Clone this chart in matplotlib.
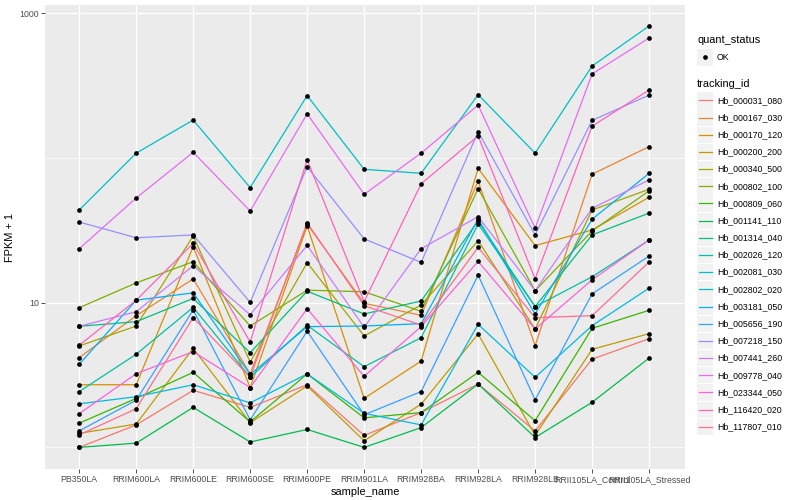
import numpy as np
import matplotlib.pyplot as plt
from matplotlib.patches import Rectangle
from matplotlib.ticker import FixedLocator, NullFormatter

plt.rcParams['font.family'] = ['Liberation Sans', 'DejaVu Sans']

samples = ['PB350LA', 'RRIM600LA', 'RRIM600LE', 'RRIM600SE', 'RRIM600PE',
           'RRIM901LA', 'RRIM928BA', 'RRIM928LA', 'RRIM928LB',
           'RRII105LA_Control', 'RRII105LA_Stressed']

tracking_ids = ['Hb_000031_080', 'Hb_000167_030', 'Hb_000170_120', 'Hb_000200_200',
                'Hb_000340_500', 'Hb_000802_100', 'Hb_000809_060', 'Hb_001141_110',
                'Hb_001314_040', 'Hb_002026_120', 'Hb_002081_030', 'Hb_002802_020',
                'Hb_003181_050', 'Hb_005656_190', 'Hb_007218_150', 'Hb_007441_260',
                'Hb_009778_040', 'Hb_023344_050', 'Hb_116420_020', 'Hb_117807_010']

# ggplot hue palette for 20 levels
colors = ['#F8766D', '#EA8331', '#D89000', '#C09B00', '#A3A500', '#7CAE00',
          '#39B600', '#00BB4E', '#00BF7D', '#00C1A3', '#00BFC4', '#00BAE0',
          '#00B0F6', '#35A2FF', '#9590FF', '#C77CFF', '#E76BF3', '#FA62DB',
          '#FF62BC', '#FF6C91']

# FPKM + 1, one list per gene, in sample order
hb_000031_080 = [1.0, 1.43, 2.48, 1.89, 2.71, 1.21, 1.74, 2.74, 1.30, 4.07, 5.64]
hb_000167_030 = [4.17, 8.13, 14.6, 3.22, 34.9, 9.9, 8.18, 69.3, 5.05, 77.3, 119.7]
hb_000170_120 = [2.71, 2.71, 24.4, 2.59, 33.9, 2.18, 3.95, 84.9, 24.8, 31.8, 53.6]
hb_000200_200 = [1.25, 1.45, 4.84, 1.48, 2.66, 1.11, 1.99, 6.08, 1.21, 4.76, 6.11]
hb_000340_500 = [5.02, 6.9, 28.9, 3.89, 18.9, 5.89, 9.64, 26.8, 6.58, 43.7, 60.8]
hb_000802_100 = [9.23, 13.7, 19.2, 6.9, 12.2, 11.9, 8.72, 61.5, 12.1, 31.3, 59.3]
hb_000809_060 = [1.47, 2.18, 3.30, 1.50, 3.22, 1.60, 1.74, 3.30, 1.53, 6.65, 8.86]
hb_001141_110 = [1.0, 1.07, 1.89, 1.09, 1.33, 1.0, 1.37, 2.74, 1.17, 2.05, 4.14]
hb_001314_040 = [6.87, 7.39, 10.7, 4.51, 12.0, 8.36, 10.27, 36.8, 9.39, 29.4, 41.6]
hb_002026_120 = [2.43, 4.40, 9.29, 3.05, 6.98, 3.61, 5.73, 35.0, 9.39, 15.1, 27.1]
hb_002081_030 = [43.7, 108, 183, 62.4, 270, 83.5, 78.4, 274, 108, 432, 817]
hb_002802_020 = [2.00, 2.24, 2.71, 2.03, 3.22, 1.72, 1.43, 7.09, 3.05, 6.94, 12.6]
hb_003181_050 = [3.75, 10.4, 11.7, 3.19, 6.83, 6.9, 7.16, 37.9, 8.36, 37.7, 78.4]
hb_005656_190 = [1.30, 2.12, 8.90, 1.55, 6.35, 1.68, 2.43, 15.5, 2.13, 11.5, 21.0]
hb_007218_150 = [36.1, 28.1, 29.4, 10.06, 87, 27.6, 19.0, 152, 29.4, 182, 272]
hb_007441_260 = [6.87, 8.66, 18.0, 8.26, 24.9, 6.76, 23.6, 39.3, 12.1, 44.9, 70.5]
hb_009778_040 = [23.6, 52.9, 109.5, 43.0, 202, 56.1, 108, 232, 32.7, 381, 675]
hb_023344_050 = [1.71, 3.23, 4.59, 2.59, 9.09, 3.10, 6.83, 19.3, 6.58, 14.4, 27.1]
hb_116420_020 = [5.08, 10.4, 25.7, 5.35, 97.3, 10.16, 66.3, 142, 14.6, 166, 295]
hb_117807_010 = [1.22, 1.85, 7.88, 3.05, 35.7, 9.54, 7.0, 24.1, 7.88, 8.13, 19.1]

series = [hb_000031_080, hb_000167_030, hb_000170_120, hb_000200_200,
          hb_000340_500, hb_000802_100, hb_000809_060, hb_001141_110,
          hb_001314_040, hb_002026_120, hb_002081_030, hb_002802_020,
          hb_003181_050, hb_005656_190, hb_007218_150, hb_007441_260,
          hb_009778_040, hb_023344_050, hb_116420_020, hb_117807_010]

W, H = 800, 500
fig = plt.figure(figsize=(8, 5), dpi=100)
fig.patch.set_facecolor('white')
ax = fig.add_axes([45 / W, 1 - 469 / H, 640 / W, 464 / H])
ax.set_facecolor('#EBEBEB')
for s in ax.spines.values():
    s.set_visible(False)

x = np.arange(len(samples))
for vals, col in zip(series, colors):
    ax.plot(x, vals, color=col, lw=0.9, zorder=3)
for vals in series:
    ax.plot(x, vals, 'o', color='black', ms=3.4, mew=0, zorder=4)

ax.set_yscale('log')
ax.set_ylim(0.709, 1141)
ax.set_xlim(-0.6, 10.63)
ax.set_yticks([10, 1000])
ax.set_yticklabels(['10', '1000'])
ax.yaxis.set_minor_locator(FixedLocator([1, 100]))
ax.yaxis.set_minor_formatter(NullFormatter())
ax.set_xticks(x)
ax.set_xticklabels(samples)
ax.tick_params(axis='both', which='major', length=3, width=0.6, color='#333333',
               labelcolor='#4D4D4D', labelsize=6.3, pad=1.5)
ax.tick_params(axis='y', which='minor', length=0)
ax.grid(True, which='major', color='white', lw=1.0, zorder=0)
ax.grid(True, which='minor', axis='y', color='white', lw=0.5, zorder=0)
ax.set_axisbelow(True)
ax.set_xlabel('sample_name', fontsize=7.9, labelpad=2)
ax.set_ylabel('FPKM + 1', fontsize=7.9, labelpad=3)

# legends drawn in pixel space
lax = fig.add_axes([0, 0, 1, 1], facecolor='none')
lax.set_xlim(0, W)
lax.set_ylim(H, 0)
lax.axis('off')

lx = 697
lax.text(lx, 40, 'quant_status', fontsize=7.9, va='center', ha='left')
lax.add_patch(Rectangle((lx, 49), 16, 16.5, color='#F2F2F2', lw=0))
lax.plot([lx + 8], [57.2], 'o', color='black', ms=3.4, mew=0)
lax.text(lx + 20, 57.2, 'OK', fontsize=6.3, va='center', ha='left')

lax.text(lx, 84, 'tracking_id', fontsize=7.9, va='center', ha='left')
y0, dy = 100.4, 17.18
for i, (tid, col) in enumerate(zip(tracking_ids, colors)):
    yc = y0 + i * dy
    lax.add_patch(Rectangle((lx, yc - 8.1), 16, 16.3, color='#F2F2F2', lw=0))
    lax.plot([lx + 1.5, lx + 14.5], [yc, yc], color=col, lw=0.9)
    lax.text(lx + 20, yc, tid, fontsize=6.3, va='center', ha='left')

fig.savefig('out.png', dpi=100)
